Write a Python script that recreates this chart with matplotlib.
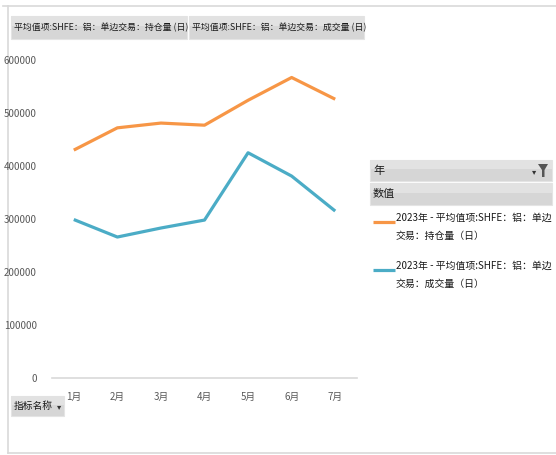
import numpy as np
import matplotlib.pyplot as plt
from matplotlib.patches import Rectangle, Polygon

plt.rcParams['font.family'] = ['Noto Sans CJK SC', 'DejaVu Sans']

months = ["1月", "2月", "3月", "4月", "5月", "6月", "7月"]
open_interest = [430000, 472000, 481000, 477000, 524000, 567000, 526000]
volume = [299000, 266000, 283000, 298000, 425000, 381000, 315000]
series_names = ["2023年 - 平均值项:SHFE：铝：单边\n交易：持仓量（日）",
                "2023年 - 平均值项:SHFE：铝：单边\n交易：成交量（日）"]
header_labels = ["平均值项:SHFE：铝：单边交易：持仓量 (日)",
                 "平均值项:SHFE：铝：单边交易：成交量 (日)"]
colors = ["#F79646", "#4BACC6"]

W, H = 556, 455
fig = plt.figure(figsize=(W / 100, H / 100), dpi=100)

# main plot area
ax = fig.add_axes([52 / W, 1 - 378 / H, 305 / W, 318 / H])
x = np.arange(len(months))
ax.plot(x, open_interest, color=colors[0], lw=2.3, solid_capstyle="butt")
ax.plot(x, volume, color=colors[1], lw=2.3, solid_capstyle="butt")
ax.set_xlim(-0.5, len(months) - 0.5)
ax.set_ylim(0, 600000)
ax.set_yticks(np.arange(0, 600001, 100000))
ax.set_yticklabels([f"{v:d}" for v in range(0, 600001, 100000)])
ax.set_xticks(x)
ax.set_xticklabels(months)
for s in ["top", "right", "left"]:
    ax.spines[s].set_visible(False)
ax.spines["bottom"].set_color("#d9d9d9")
ax.spines["bottom"].set_linewidth(1.2)
ax.tick_params(length=0, labelsize=7, labelcolor="#595959")
ax.tick_params(axis="y", pad=11)
ax.tick_params(axis="x", pad=10)

# overlay in pixel coordinates for the pivot chart decorations
ov = fig.add_axes([0, 0, 1, 1], zorder=-1)
ov.set_xlim(0, W)
ov.set_ylim(H, 0)
ov.axis("off")

# outer frame
ov.plot([3, W], [6, 6], color="#d9d9d9", lw=1.2)
ov.plot([8, 8], [6, 453], color="#d9d9d9", lw=1.2)
ov.plot([8, W], [453, 453], color="#d9d9d9", lw=1.2)


def button(x0, y0, w, h, label, fs=7, arrow=False):
    ov.add_patch(Rectangle((x0, y0), w, h, facecolor="#d6d6d6", edgecolor="#e4e4e4", lw=0.8))
    ov.add_patch(Rectangle((x0, y0), w, h * 0.45, facecolor="#e2e2e2", edgecolor="none"))
    ov.text(x0 + 3, y0 + h / 2, label, fontsize=fs, va="center", ha="left", color="#1a1a1a")
    if arrow:
        ov.text(x0 + w - 3, y0 + h / 2 + 1, "▾", fontsize=6, va="center", ha="right",
                color="#333333", family="DejaVu Sans")


button(11, 16, 176, 23, header_labels[0], fs=6.4)
button(189, 16, 175, 23, header_labels[1], fs=6.4)
button(11, 396, 53, 20, "指标名称", fs=7, arrow=True)

# legend panel
button(370, 160, 182, 21, "年", fs=8)
ov.text(536, 172, "▾", fontsize=6, va="center", ha="right", color="#333333", family="DejaVu Sans")
ov.add_patch(Polygon([[538, 164], [548, 164], [544.5, 170], [544.5, 177], [542, 177], [542, 170]],
                     closed=True, facecolor="#555555", edgecolor="none"))
button(370, 183, 182, 22, "数值", fs=8)

for i, (name, c) in enumerate(zip(series_names, colors)):
    yy = 222 + i * 48
    ov.plot([373, 395], [yy, yy], color=c, lw=2.3, solid_capstyle="butt")
    ov.text(396, yy - 9, name, fontsize=7.1, va="top", ha="left", color="#1a1a1a",
            linespacing=2.0)

fig.savefig("out.png", dpi=100)
